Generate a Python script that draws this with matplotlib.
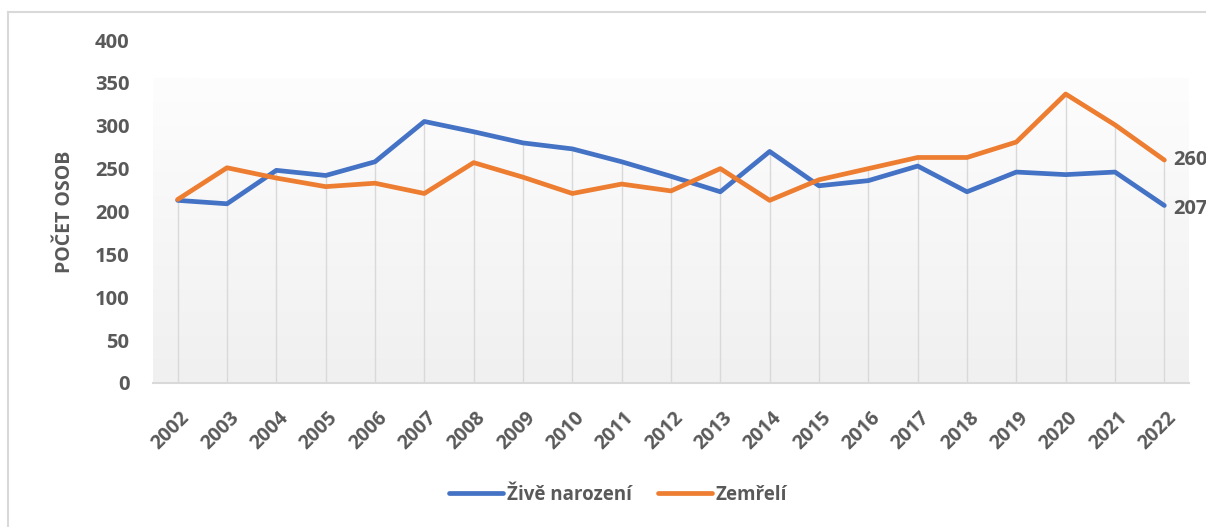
import numpy as np
import matplotlib
matplotlib.use('Agg')
from matplotlib import pyplot as plt
from matplotlib.lines import Line2D
from matplotlib.transforms import ScaledTranslation

plt.rcParams['font.family'] = ['Open Sans', 'DejaVu Sans']

years = [str(y) for y in range(2002, 2023)]
zive_narozeni = [213, 209, 248, 242, 258, 305, 293, 280, 273, 258, 241,
                 223, 270, 230, 236, 253, 223, 246, 243, 246, 207]
zemreli = [214, 251, 239, 229, 233, 221, 257, 240, 221, 232, 224,
           250, 213, 237, 250, 263, 263, 281, 337, 301, 260]

W, H = 1206, 527
grey_txt = '#595959'
blue = '#4472C4'
orange = '#ED7D31'
wt = 'bold'

fig = plt.figure(figsize=(W / 100, H / 100), dpi=100)
fig.patch.set_facecolor('white')

# chart border (only top/left visible, rest is cropped)
fig.add_artist(Line2D([8 / W, 1.0], [1 - 12 / H, 1 - 12 / H], color='#d9d9d9', lw=1.5))
fig.add_artist(Line2D([8 / W, 8 / W], [0.0, 1 - 12 / H], color='#d9d9d9', lw=1.5))

ax = fig.add_axes([153 / W, (H - 383) / H, (1189 - 153) / W, 343 / H])
x = np.arange(len(years))
ax.set_xlim(-0.5, len(years) - 0.5)
ax.set_ylim(0, 400)

# gradient fill of the plot area
grad = np.linspace(0, 1, 256).reshape(-1, 1)
ax.imshow(grad, cmap=matplotlib.colors.LinearSegmentedColormap.from_list('g', ['#f0f0f0', '#fdfdfd']),
          extent=[0, 1, 0, 0.889], transform=ax.transAxes, aspect='auto', origin='lower', zorder=0)
ax.set_facecolor('white')

# drop lines
top = np.maximum(zive_narozeni, zemreli)
ax.vlines(x, 0, top, color='#d9d9d9', lw=1, zorder=1)

ax.plot(x, zive_narozeni, color=blue, lw=3.4, solid_joinstyle='round',
        solid_capstyle='round', label='Živě narození', zorder=3)
ax.plot(x, zemreli, color=orange, lw=3.4, solid_joinstyle='round',
        solid_capstyle='round', label='Zemřelí', zorder=3)

for s in ['top', 'right', 'left']:
    ax.spines[s].set_visible(False)
ax.spines['bottom'].set_color('#d9d9d9')
ax.spines['bottom'].set_linewidth(1.5)

ax.set_yticks(range(0, 401, 50))
ax.tick_params(axis='y', length=0, pad=17, labelsize=14.5, labelcolor=grey_txt)
for lab in ax.get_yticklabels():
    lab.set_fontweight(wt)

ax.set_xticks(x)
ax.set_xticklabels(years, rotation=45, ha='right', va='top', rotation_mode='anchor',
                   fontsize=14, fontweight=wt, color=grey_txt)
ax.tick_params(axis='x', length=0, pad=18)
for lab in ax.get_xticklabels():
    lab.set_transform(lab.get_transform() + ScaledTranslation(2 / 100, 0, fig.dpi_scale_trans))

ax.set_ylabel('POČET OSOB', fontsize=14, fontweight=wt, color=grey_txt, labelpad=14)

# end labels
ax.annotate(str(zemreli[-1]), (x[-1], zemreli[-1]), xytext=(9, 0), textcoords='offset pixels',
            va='center', ha='left', fontsize=14.5, fontweight=wt, color=grey_txt,
            annotation_clip=False)
ax.annotate(str(zive_narozeni[-1]), (x[-1], zive_narozeni[-1]), xytext=(9, -4), textcoords='offset pixels',
            va='center', ha='left', fontsize=14.5, fontweight=wt, color=grey_txt,
            annotation_clip=False)

leg = fig.legend(loc='center', bbox_to_anchor=(618 / W, 1 - 495 / H), ncol=2, frameon=False,
                 prop={'size': 13.5, 'weight': wt}, handlelength=2.9, handletextpad=0.2,
                 columnspacing=1.4)
for t in leg.get_texts():
    t.set_color(grey_txt)

fig.savefig('out.png', dpi=100)
